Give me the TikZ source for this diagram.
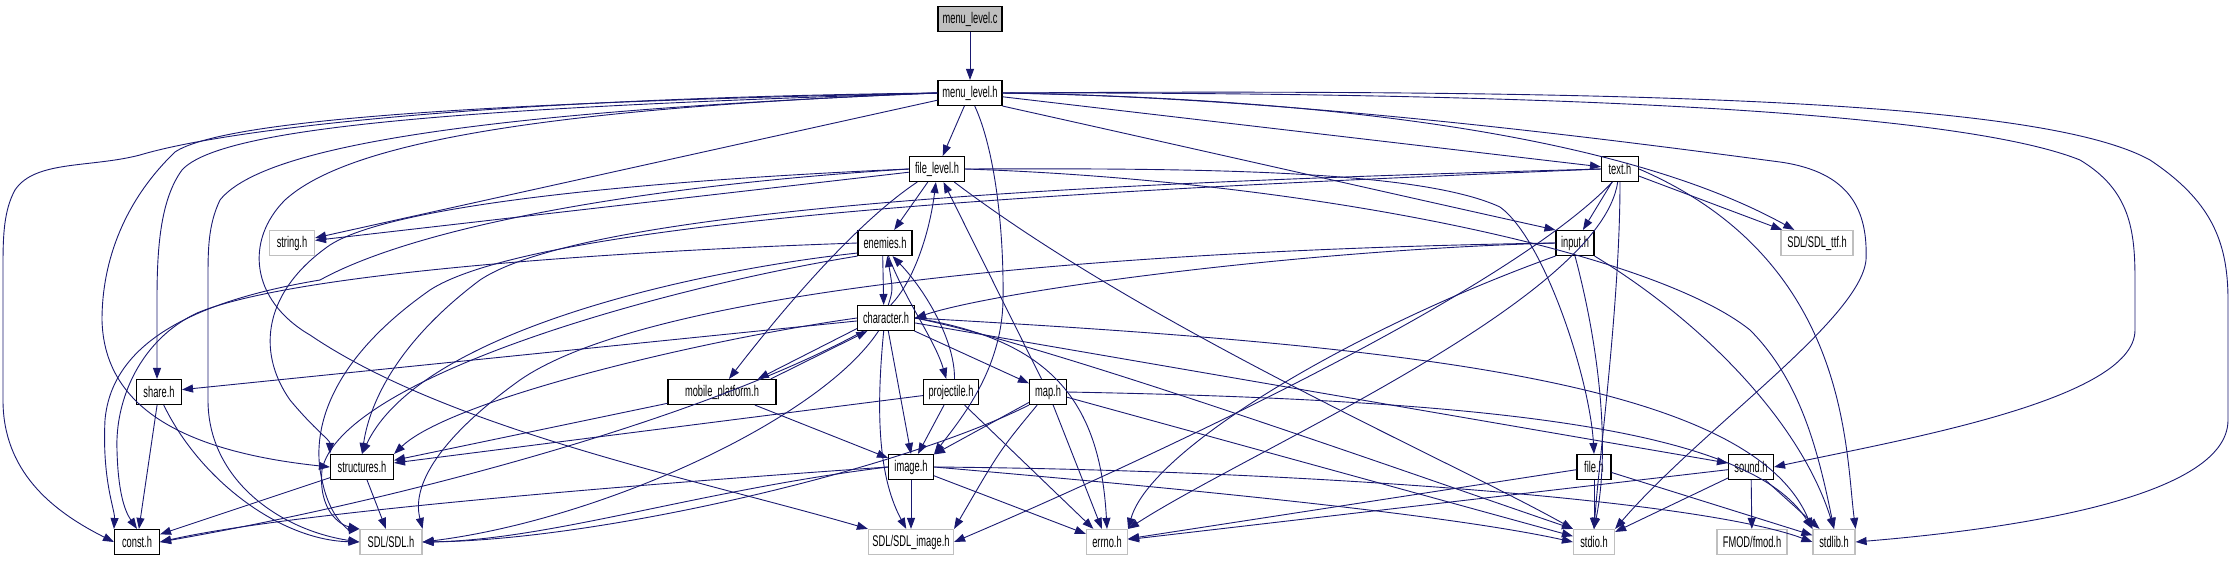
\documentclass[tikz,border=0pt]{standalone}
\usepackage{fontspec}
\newfontfamily\dfont[FakeStretch=0.6]{Liberation Sans}
\usetikzlibrary{arrows.meta}
\definecolor{edgec}{HTML}{191970}
\definecolor{sysb}{HTML}{BFBFBF}
\begin{document}
\begin{tikzpicture}[x=1pt,y=-1pt,
  box/.style={rectangle,inner sep=0pt,minimum height=25pt,font=\dfont\fontsize{15.5}{17}\selectfont},
  hdr/.style={box,draw=black,line width=1.1pt,fill=white},
  sys/.style={box,draw=sysb,line width=1.2pt,fill=white},
  edge/.style={draw=edgec,line width=0.9pt,-{Triangle[length=11pt,width=8pt]}}]
\useasboundingbox (0,0) rectangle (2232,560);
% nodes
\node[hdr,fill=sysb,minimum width=64pt] (mlc) at (970,19) {menu\_level.c};
\node[hdr,minimum width=64pt] (mlh) at (970,93) {menu\_level.h};
\node[hdr,minimum width=55pt] (fl) at (937,169) {file\_level.h};
\node[hdr,minimum width=37pt] (txt) at (1620,169) {text.h};
\node[sys,minimum width=45pt] (str) at (292,243) {string.h};
\node[hdr,minimum width=54pt] (ene) at (885,243) {enemies.h};
\node[hdr,minimum width=38pt] (inp) at (1575,243) {input.h};
\node[sys,minimum width=72pt] (ttf) at (1817,243) {SDL/SDL\_ttf.h};
\node[hdr,minimum width=57pt] (chr) at (886,318) {character.h};
\node[hdr,minimum width=45pt] (shr) at (159,392) {share.h};
\node[hdr,minimum width=108pt] (mob) at (722,392) {mobile\_platform.h};
\node[hdr,minimum width=55pt] (prj) at (951,392) {projectile.h};
\node[hdr,minimum width=37pt] (map) at (1048,392) {map.h};
\node[hdr,minimum width=63pt] (sts) at (362,467) {structures.h};
\node[hdr,minimum width=45pt] (img) at (911,467) {image.h};
\node[hdr,minimum width=34pt] (fil) at (1594,467) {file.h};
\node[hdr,minimum width=45pt] (snd) at (1751,467) {sound.h};
\node[hdr,minimum width=45pt] (cst) at (137,542) {const.h};
\node[sys,minimum width=62pt] (sdl) at (391,542) {SDL/SDL.h};
\node[sys,minimum width=85pt] (sdi) at (911,542) {SDL/SDL\_image.h};
\node[sys,minimum width=41pt] (err) at (1107,542) {errno.h};
\node[sys,minimum width=41pt] (sio) at (1594,542) {stdio.h};
\node[sys,minimum width=70pt] (fmd) at (1752,542) {FMOD/fmod.h};
\node[sys,minimum width=42pt] (slb) at (1834,542) {stdlib.h};
% menu_level.c
\draw[edge] (mlc) -- (mlh);
% menu_level.h
\draw[edge] (mlh) -- (fl);
\draw[edge] (mlh) -- (str);
\draw[edge] (mlh.west) .. controls (500,98) and (230,128) .. (140,155) .. controls (90,168) and (35,160) .. (15,190) .. controls (4,210) and (3,235) .. (3,265) -- (3,400) .. controls (3,470) and (50,510) .. (cst.west);
\draw[edge] (mlh.west) .. controls (450,103) and (220,122) .. (175,152) .. controls (125,200) and (102,260) .. (102,320) .. controls (104,400) and (170,450) .. (sts.west);
\draw[edge] (mlh.west) .. controls (450,108) and (220,128) .. (182,170) .. controls (160,200) and (157,250) .. (157,300) -- (shr.north -| 157,0);
\draw[edge] (mlh.west) .. controls (450,113) and (260,150) .. (220,200) .. controls (208,225) and (208,250) .. (208,280) -- (208,400) .. controls (208,480) and (280,530) .. (sdl.west);
\draw[edge] (mlh.west) .. controls (500,110) and (340,150) .. (285,200) .. controls (245,240) and (250,300) .. (310,335) .. controls (450,430) and (700,480) .. (sdi.north west);
\draw[edge] (mlh.-70) .. controls (995,150) and (1004,230) .. (1003,300) .. controls (1002,370) and (960,420) .. (img.north east);
\draw[edge] (mlh) -- (txt);
\draw[edge] (mlh.south east) .. controls (1200,150) and (1420,200) .. (inp.north west);
\draw[edge] (mlh.east) .. controls (1400,100) and (1650,150) .. (ttf.150);
\draw[edge] (mlh.east) .. controls (1300,97) and (1650,145) .. (1780,162) .. controls (1850,172) and (1868,210) .. (1866,260) .. controls (1860,320) and (1700,430) .. (sio.north east);
\draw[edge] (mlh.east) .. controls (1500,92) and (1950,108) .. (2080,160) .. controls (2130,190) and (2135,230) .. (2135,280) -- (2135,330) .. controls (2135,400) and (1900,440) .. (snd.east);
\draw[edge] (mlh.east) .. controls (1700,88) and (2050,105) .. (2150,160) .. controls (2210,200) and (2228,240) .. (2228,300) -- (2228,420) .. controls (2228,500) and (2000,530) .. (slb.east);
% file_level.h
\draw[edge] (fl) -- (str);
\draw[edge] (fl) -- (ene);
\draw[edge] (fl) .. controls (860,220) and (790,300) .. (mob.62);
\draw[edge] (fl.east) .. controls (1200,168) and (1420,170) .. (1500,207) .. controls (1545,240) and (1590,380) .. (fil.north);
\draw[edge] (fl) .. controls (1150,330) and (1450,460) .. (sio.north west);
\draw[edge] (fl.east) .. controls (1300,180) and (1650,250) .. (1750,330) .. controls (1800,380) and (1818,450) .. (slb.north);
\draw[edge] (fl.west) .. controls (700,178) and (400,200) .. (330,245) .. controls (265,290) and (255,350) .. (290,400) .. controls (315,430) and (330,440) .. (sts.north west);
\draw[edge] (fl.west) .. controls (650,185) and (420,225) .. (320,280) .. controls (200,300) and (112,340) .. (105,420) .. controls (102,480) and (115,510) .. (cst.north west);
% enemies.h
\draw[edge] (ene.-100) -- (chr.100);
\draw[edge] (ene.west) .. controls (650,250) and (300,270) .. (197,313) .. controls (140,340) and (115,400) .. (117,450) .. controls (118,490) and (124,510) .. (cst.north);
\draw[edge] (ene.200) .. controls (700,270) and (420,330) .. (sts.north);
\draw[edge] (ene.south west) .. controls (650,290) and (340,380) .. (322,470) .. controls (318,510) and (340,525) .. (sdl.north west);
\draw[edge] (ene.-75) .. controls (905,300) and (935,340) .. (prj.110);
% character.h
\draw[edge] (chr.80) .. controls (893,290) .. (ene.-80);
\draw[edge] (chr.70) .. controls (915,280) and (930,230) .. (fl.-95);
\draw[edge] (chr) -- (shr);
\draw[edge] (chr.-160) -- (mob.20);
\draw[edge] (chr.west) .. controls (700,340) and (450,400) .. (sts.north east);
\draw[edge] (chr.-150) .. controls (700,420) and (400,500) .. (cst.east);
\draw[edge] (chr.-120) .. controls (820,420) and (600,520) .. (sdl.east);
\draw[edge] (chr.-100) .. controls (875,420) and (880,480) .. (sdi.110);
\draw[edge] (chr.-80) -- (img.north);
\draw[edge] (chr) -- (map);
\draw[edge] (chr.east) .. controls (1050,340) and (1100,400) .. (err.north);
\draw[edge] (chr.east) .. controls (1050,345) and (1400,470) .. (sio.north west);
\draw[edge] (chr.east) .. controls (1400,345) and (1750,380) .. (slb.north west);
\draw[edge] (chr) -- (snd);
% mobile_platform.h
\draw[edge] (mob.15) -- (chr.-145);
\draw[edge] (mob) -- (sts);
\draw[edge] (mob) -- (img);
% projectile.h
\draw[edge] (prj.75) .. controls (955,340) and (925,290) .. (ene.-60);
\draw[edge] (prj) -- (sts);
\draw[edge] (prj) -- (img);
\draw[edge] (prj) -- (err);
% map.h
\draw[edge] (map) -- (fl);
\draw[edge] (map) -- (img);
\draw[edge] (map.south west) .. controls (900,470) and (600,540) .. (sdl.east);
\draw[edge] (map) .. controls (1000,450) .. (sdi.north east);
\draw[edge] (map) -- (err);
\draw[edge] (map) -- (sio);
\draw[edge] (map.east) .. controls (1500,400) and (1750,430) .. (slb.north west);
% image.h
\draw[edge] (img.west) .. controls (700,480) and (300,510) .. (cst.east);
\draw[edge] (img.west) .. controls (700,490) and (550,540) .. (sdl.east);
\draw[edge] (img) -- (sdi);
\draw[edge] (img) -- (err);
\draw[edge] (img.east) .. controls (1200,490) and (1450,515) .. (sio.west);
\draw[edge] (img.east) .. controls (1300,470) and (1700,500) .. (slb.west);
% structures.h / share.h
\draw[edge] (sts) -- (cst);
\draw[edge] (sts) -- (sdl);
\draw[edge] (shr) -- (cst);
\draw[edge] (shr.-70) .. controls (200,480) and (280,540) .. (sdl.west);
% input.h
\draw[edge] (inp.west) .. controls (1300,250) and (1000,290) .. (chr.east);
\draw[edge] (inp.west) .. controls (1100,250) and (650,290) .. (520,380) .. controls (450,430) and (410,480) .. (sdl.north east);
\draw[edge] (inp.south west) .. controls (1350,330) and (1150,450) .. (err.north east);
\draw[edge] (inp.south) .. controls (1600,350) and (1610,450) .. (sio.north);
\draw[edge] (inp.south east) .. controls (1700,320) and (1800,420) .. (slb.north);
% text.h
\draw[edge] (txt) -- (inp);
\draw[edge] (txt) -- (ttf);
\draw[edge] (txt.east) .. controls (1850,260) and (1845,450) .. (slb.north east);
\draw[edge] (txt.south) .. controls (1620,300) and (1600,450) .. (sio.north);
\draw[edge] (txt.-100) .. controls (1600,300) and (1250,450) .. (err.north east);
\draw[edge] (txt.-120) .. controls (1500,300) and (1100,480) .. (sdi.east);
\draw[edge] (txt.west) .. controls (1200,180) and (600,200) .. (480,280) .. controls (400,340) and (370,400) .. (sts.north);
\draw[edge] (txt.west) .. controls (1200,186) and (550,212) .. (430,290) .. controls (330,360) and (310,430) .. (322,480) .. controls (330,520) and (350,530) .. (sdl.north west);
% file.h / sound.h
\draw[edge] (fil) -- (sio);
\draw[edge] (fil) -- (slb);
\draw[edge] (fil) -- (err);
\draw[edge] (snd) -- (fmd);
\draw[edge] (snd) -- (sio);
\draw[edge] (snd) -- (slb);
\draw[edge] (snd) -- (err);
\end{tikzpicture}
\end{document}
